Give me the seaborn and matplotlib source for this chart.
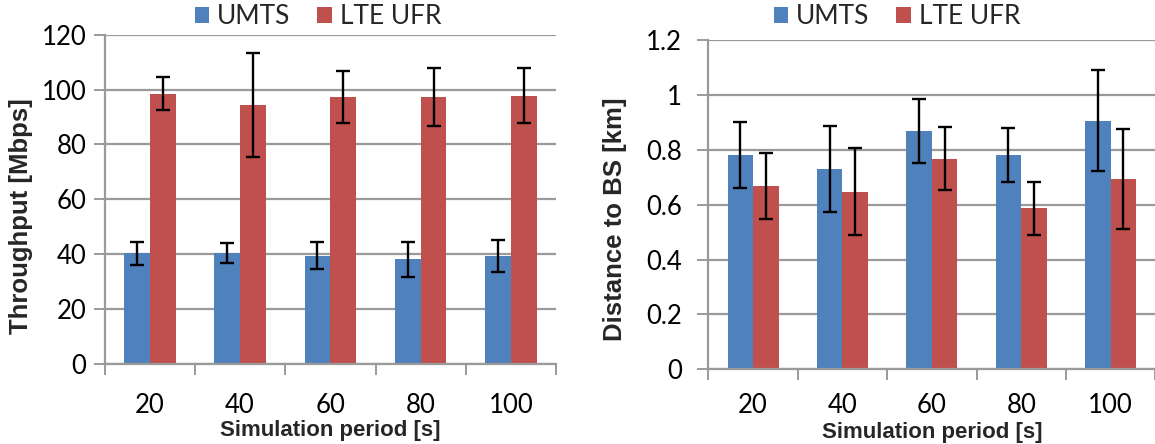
import numpy as np
import pandas as pd
import matplotlib
matplotlib.use("Agg")
import matplotlib.pyplot as plt
from matplotlib.patches import Patch
from matplotlib.ticker import FixedLocator, NullFormatter, FixedFormatter
import seaborn as sns

# Simulation periods (s)
periods = ["20", "40", "60", "80", "100"]
series = ["UMTS", "LTE UFR"]

# Throughput (Mbps): mean and error half-widths
thr_umts = [40.3, 40.4, 39.5, 38.1, 39.3]
thr_umts_err = [4.2, 3.6, 4.8, 6.4, 5.8]
thr_lte = [98.5, 94.5, 97.4, 97.3, 97.7]
thr_lte_err = [6.1, 19.0, 9.5, 10.6, 10.0]

# Distance to base station (km): mean and error half-widths
dist_umts = [0.781, 0.731, 0.867, 0.781, 0.905]
dist_umts_err = [0.120, 0.156, 0.117, 0.097, 0.184]
dist_lte = [0.668, 0.647, 0.768, 0.587, 0.694]
dist_lte_err = [0.120, 0.158, 0.116, 0.096, 0.183]

y_ticks_thr = [0, 20, 40, 60, 80, 100, 120]
y_ticks_dist = [0, 0.2, 0.4, 0.6, 0.8, 1.0, 1.2]
y_labels_dist = ["0", "0.2", "0.4", "0.6", "0.8", "1", "1.2"]

BLUE = "#4F81BD"
RED = "#C0504D"
GRID = "#9A9A9A"
TICK_FS = 18.5
XTITLE_FS = 16
YTITLE_FS = 18.5

sns.set_theme(style="white")
plt.rcParams["font.family"] = ["Lato", "DejaVu Sans"]

fig = plt.figure(figsize=(11.55, 4.44), dpi=100)


def long_form(a, b):
    return pd.DataFrame({
        "period": periods * 2,
        "series": [series[0]] * len(periods) + [series[1]] * len(periods),
        "value": list(a) + list(b),
    })


def draw_panel(ax, a, a_err, b, b_err, yticks, ylabels, ylabel, ylim,
               ypad, xpad, xlabel_y, ylabel_xy):
    df = long_form(a, b)
    sns.barplot(data=df, x="period", y="value", hue="series",
                order=periods, hue_order=series,
                palette=[BLUE, RED], width=0.5714, gap=0,
                errorbar=None, legend=False, ax=ax, zorder=2,
                edgecolor="none", saturation=1)
    # error bars drawn at each bar's centre
    for cont, vals, errs in zip(ax.containers, [a, b], [a_err, b_err]):
        xs = [p.get_x() + p.get_width() / 2 for p in cont.patches]
        ax.errorbar(xs, vals, yerr=errs, fmt="none", ecolor="black",
                    elinewidth=1.7, capsize=4.8, capthick=1.7, zorder=3)

    ax.set_xlim(-0.5, len(periods) - 0.5)
    ax.set_ylim(*ylim)

    # y axis: gridlines with outward ticks
    ax.set_yticks(yticks)
    ax.set_yticklabels(ylabels)
    ax.yaxis.grid(True, color=GRID, linewidth=1.6, zorder=0)
    ax.set_axisbelow(True)
    ax.tick_params(axis="y", which="major", left=True, length=8, width=1.4,
                   color=GRID, pad=ypad, labelsize=TICK_FS, labelcolor="black")

    # x axis: ticks on category boundaries, labels on category centres
    bounds = np.arange(len(periods) + 1) - 0.5
    ax.xaxis.set_major_locator(FixedLocator(bounds))
    ax.xaxis.set_major_formatter(NullFormatter())
    ax.xaxis.set_minor_locator(FixedLocator(np.arange(len(periods))))
    ax.xaxis.set_minor_formatter(FixedFormatter(periods))
    ax.tick_params(axis="x", which="major", bottom=True, length=8, width=1.4,
                   color=GRID)
    ax.tick_params(axis="x", which="minor", bottom=True, length=0, pad=xpad,
                   labelsize=TICK_FS, labelcolor="black")

    for side in ["top", "right"]:
        ax.spines[side].set_visible(False)
    for side in ["left", "bottom"]:
        ax.spines[side].set_color(GRID)
        ax.spines[side].set_linewidth(1.6)

    ax.set_xlabel("Simulation period [s]", fontsize=XTITLE_FS, fontweight="bold",
                  family=["Liberation Sans", "DejaVu Sans"], va="center")
    ax.xaxis.set_label_coords(0.5, xlabel_y)
    ax.set_ylabel(ylabel, fontsize=YTITLE_FS, fontweight="bold",
                  family=["Liberation Sans", "DejaVu Sans"], va="center")
    ax.yaxis.set_label_coords(*ylabel_xy)


ax1 = fig.add_axes([0.0906, 0.1802, 0.3909, 0.7416])
draw_panel(ax1, thr_umts, thr_umts_err, thr_lte, thr_lte_err,
           y_ticks_thr, [str(v) for v in y_ticks_thr],
           "Throughput [Mbps]", (0, 120), 5, 21, -0.2035, (-0.186, 0.45))

ax2 = fig.add_axes([0.6133, 0.1682, 0.3870, 0.7417])
draw_panel(ax2, dist_umts, dist_umts_err, dist_lte, dist_lte_err,
           y_ticks_dist, y_labels_dist,
           "Distance to BS [km]", (0, 1.2), 11, 17, -0.1904, (-0.208, 0.455))

handles = [Patch(facecolor=BLUE, edgecolor="none"),
           Patch(facecolor=RED, edgecolor="none")]
for cx in (318 / 1155, 897 / 1155):
    fig.legend(handles, series, loc="center", bbox_to_anchor=(cx, 1 - 17 / 444),
               ncol=2, frameon=False, fontsize=19, handlelength=0.55,
               handleheight=0.55, handletextpad=0.3, columnspacing=1.0,
               borderpad=0, borderaxespad=0)

fig.savefig("out.png", dpi=100)
